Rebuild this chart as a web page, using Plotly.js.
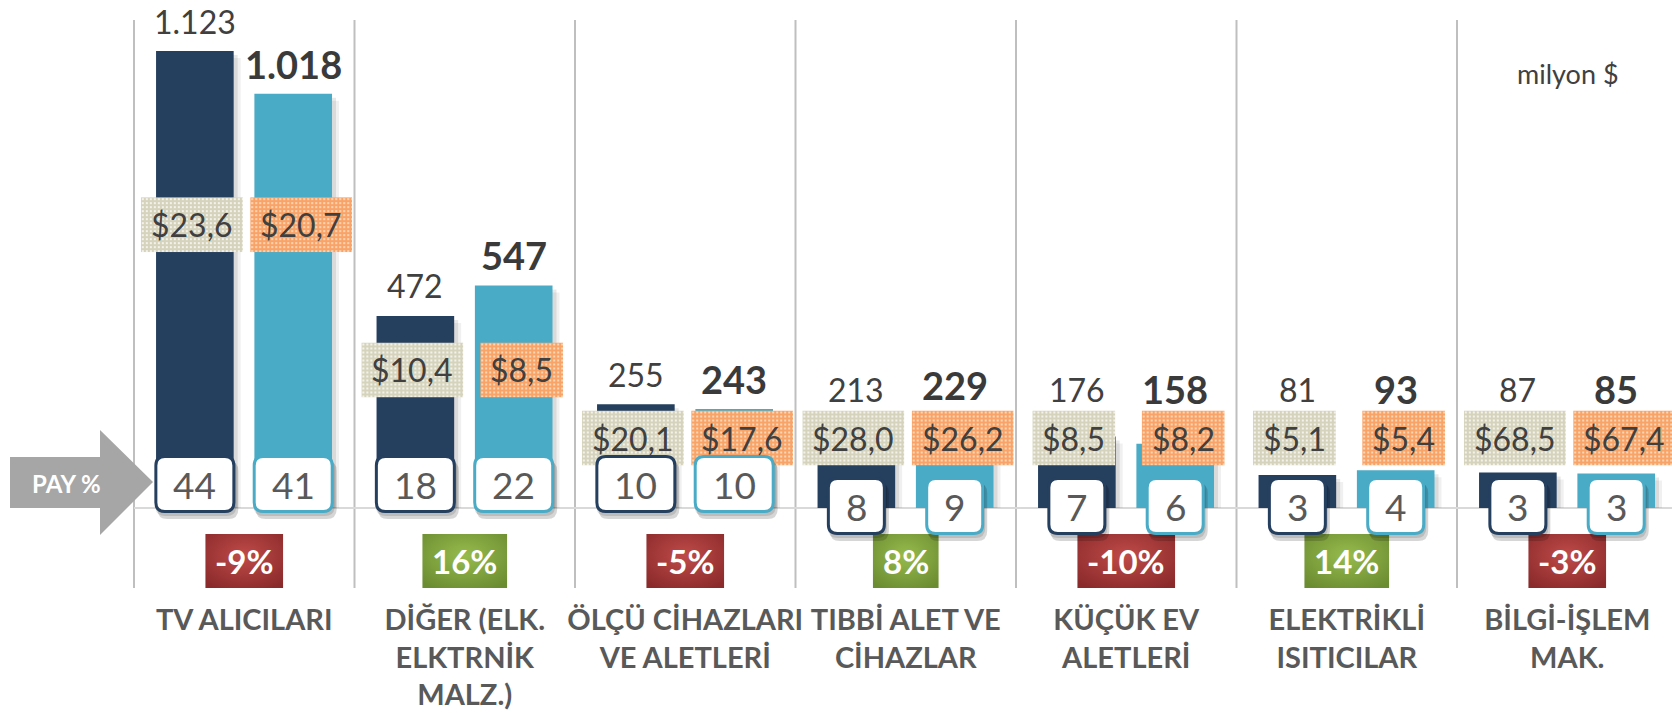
<!DOCTYPE html>
<html><head><meta charset="utf-8">
<script src="https://cdn.plot.ly/plotly-3.0.1.min.js"></script>
<style>html,body{margin:0;padding:0;background:#fff;}#chart{width:1672px;height:713px;}</style>
</head><body><div id="chart"></div>
<script>
// ---------- DATA ----------
const categories = ["TV ALICILARI", "DİĞER (ELK.<br>ELKTRNİK<br>MALZ.)", "ÖLÇÜ CİHAZLARI<br>VE ALETLERİ", "TIBBİ ALET VE<br>CİHAZLAR", "KÜÇÜK EV<br>ALETLERİ", "ELEKTRİKLİ<br>ISITICILAR", "BİLGİ-İŞLEM<br>MAK."];
const valuesPrev = [1123, 472, 255, 213, 176, 81, 87];
const valuesCurr = [1018, 547, 243, 229, 158, 93, 85];
const unitPricePrev = [23.6, 10.4, 20.1, 28.0, 8.5, 5.1, 68.5];
const unitPriceCurr = [20.7, 8.5, 17.6, 26.2, 8.2, 5.4, 67.4];
const sharePrev = [44, 18, 10, 8, 7, 3, 3];
const shareCurr = [41, 22, 10, 9, 6, 4, 3];
const changePct = [-9, 16, -5, 8, -10, 14, -3];
const unitLabel = "milyon $";
const shareLabel = "PAY %";

// ---------- GEOMETRY / STYLE ----------
const W = 1672, H = 713, PLOT_H = 600;
const CAT_W = 220.5, SEP0_PX = 134;
const BASE_PX = 508, K = 0.40695;           // px per unit
const xr = [-0.5 - SEP0_PX / CAT_W, -0.5 + (W - SEP0_PX) / CAT_W];
const yr = [-(PLOT_H - BASE_PX) / K, BASE_PX / K];
const BAR_W = 0.352, OFF_PREV = -0.400, OFF_CURR = 0.046;
const C_DARK = '#253f5f', C_LIGHT = '#4aabc6';
const FONT = 'Lato, "Open Sans", sans-serif';
const dx = p => p / CAT_W;
const dy = p => p / K;
const Xpx = px => (px - SEP0_PX) / CAT_W - 0.5;
const Ypx = py => (BASE_PX - py) / K;

const cv = document.createElement('canvas').getContext('2d');
function textW(txt, size, bold) { cv.font = (bold ? 'bold ' : '') + size + 'px Lato'; return cv.measureText(txt).width; }
const fmtInt = v => v.toLocaleString('tr-TR');
const fmtPrice = v => '$' + v.toFixed(1).replace('.', ',');
const svgUri = s => 'data:image/svg+xml;charset=utf-8,' + encodeURIComponent(s);
function patternSvg(w, h, base, dot) {
  return `<svg xmlns="http://www.w3.org/2000/svg" width="${w}" height="${h}" viewBox="0 0 ${w} ${h}"><defs><pattern id="p" width="4" height="4" patternUnits="userSpaceOnUse"><rect width="4" height="4" fill="${base}"/><rect x="1" y="1" width="2" height="2" fill="${dot}"/></pattern></defs><rect width="${w}" height="${h}" fill="url(#p)"/></svg>`;
}
function gradSvg(w, h, c1, c2) {
  return `<svg xmlns="http://www.w3.org/2000/svg" width="${w}" height="${h}" viewBox="0 0 ${w} ${h}"><defs><radialGradient id="g" cx="50%" cy="40%" r="70%"><stop offset="0" stop-color="${c1}"/><stop offset="1" stop-color="${c2}"/></radialGradient></defs><rect width="${w}" height="${h}" fill="url(#g)"/></svg>`;
}
function roundRect(a, b, r) {
  return `M ${-a + r},${-b} L ${a - r},${-b} Q ${a},${-b} ${a},${-b + r} L ${a},${b - r} Q ${a},${b} ${a - r},${b} L ${-a + r},${b} Q ${-a},${b} ${-a},${b - r} L ${-a},${-b + r} Q ${-a},${-b} ${-a + r},${-b} Z`;
}

const xs = categories.map((_, i) => i);
const traces = [];
function shadowTrace(vals, off, shift, alpha) {
  return { type: 'bar', x: xs, y: vals.map(v => v - dy(shift)), offset: off + dx(shift), width: BAR_W,
    marker: { color: `rgba(0,0,0,${alpha})`, line: { width: 0 } }, hoverinfo: 'skip', showlegend: false };
}
traces.push(shadowTrace(valuesPrev, OFF_PREV, 7, 0.06), shadowTrace(valuesPrev, OFF_PREV, 4, 0.09));
traces.push(shadowTrace(valuesCurr, OFF_CURR, 7, 0.06), shadowTrace(valuesCurr, OFF_CURR, 4, 0.09));
traces.push({ type: 'bar', name: 'önceki', x: xs, y: valuesPrev, offset: OFF_PREV, width: BAR_W, marker: { color: C_DARK, line: { width: 0 } } });
traces.push({ type: 'bar', name: 'son', x: xs, y: valuesCurr, offset: OFF_CURR, width: BAR_W, marker: { color: C_LIGHT, line: { width: 0 } } });

const shapes = [], annotations = [], images = [];
// separators
for (let i = 0; i < categories.length; i++) {
  shapes.push({ type: 'line', layer: 'below', xref: 'x', yref: 'y', x0: i - 0.5, x1: i - 0.5, y0: Ypx(588), y1: Ypx(20), line: { color: '#bfbfbf', width: 2 } });
}
// baseline
shapes.push({ type: 'line', layer: 'below', xref: 'x', yref: 'y', x0: -0.5, x1: xr[1], y0: 0, y1: 0, line: { color: '#d9d9d9', width: 2 } });

// arrow
const arrowPts = [[10, 457], [100, 457], [100, 430], [153, 482], [100, 535], [100, 508], [10, 508]];
shapes.push({ type: 'path', layer: 'below', xref: 'x', yref: 'y', path: 'M ' + arrowPts.map(p => Xpx(p[0]) + ',' + Ypx(p[1])).join(' L ') + ' Z', fillcolor: '#a6a6a6', line: { width: 0 } });
annotations.push({ xref: 'x', yref: 'y', x: Xpx(66), y: Ypx(483), xanchor: 'center', yanchor: 'middle', text: shareLabel, showarrow: false, font: { family: FONT, size: 24, color: '#ffffff', weight: 'bold' } });
annotations.push({ xref: 'paper', yref: 'paper', x: 1568 / W, y: 1 - 73 / PLOT_H, xanchor: 'center', yanchor: 'middle', text: unitLabel, showarrow: false, font: { family: FONT, size: 27, color: '#404040' } });

const series = [
  { vals: valuesPrev, off: OFF_PREV, price: unitPricePrev, share: sharePrev, col: C_DARK, bold: false, size: 32, pShift: -3, base: '#d6d3bd', dot: '#f3f2ea' },
  { vals: valuesCurr, off: OFF_CURR, price: unitPriceCurr, share: shareCurr, col: C_LIGHT, bold: true, size: 38, pShift: 8, base: '#f8a468', dot: '#fdd6b6' }
];
for (let i = 0; i < categories.length; i++) {
  const hmaxPx = Math.max(valuesPrev[i], valuesCurr[i]) * K;
  const priceCy = BASE_PX - Math.max(0.62 * hmaxPx, 70);
  series.forEach(s => {
    const v = s.vals[i];
    const cx = i + s.off + BAR_W / 2;
    const topPx = BASE_PX - v * K;
    // value label
    annotations.push({ xref: 'x', yref: 'y', x: cx, y: Ypx(Math.min(topPx - 30, 389)), xanchor: 'center', yanchor: 'middle', text: fmtInt(v), showarrow: false,
      font: { family: FONT, size: s.size, color: s.bold ? '#3a3a3a' : '#404040', weight: s.bold ? 'bold' : 'normal' } });
    // price box
    const pt = fmtPrice(s.price[i]);
    const pw = Math.round(textW(pt, 32, false) + 20), ph = 55;
    const pcx = cx + dx(s.pShift);
    images.push({ source: svgUri(patternSvg(pw, ph, s.base, s.dot)), xref: 'x', yref: 'y', x: pcx - dx(pw / 2), y: Ypx(priceCy - ph / 2),
      sizex: dx(pw), sizey: dy(ph), xanchor: 'left', yanchor: 'top', sizing: 'stretch', layer: 'above' });
    annotations.push({ xref: 'x', yref: 'y', x: pcx, y: Ypx(priceCy), xanchor: 'center', yanchor: 'middle', text: pt, showarrow: false, font: { family: FONT, size: 32, color: '#404040' } });
    // share box
    const st = String(s.share[i]);
    const sw = Math.round(textW(st, 37, false) + 38), sh = 58;
    const scy = BASE_PX - (v * K >= 95 ? 24 : 2);
    shapes.push({ type: 'path', layer: 'above', xref: 'x', yref: 'y', xsizemode: 'pixel', ysizemode: 'pixel', xanchor: cx + dx(3), yanchor: Ypx(scy + 6),
      path: roundRect(sw / 2, sh / 2, 10), fillcolor: 'rgba(0,0,0,0.16)', line: { width: 0 } });
    shapes.push({ type: 'path', layer: 'above', xref: 'x', yref: 'y', xsizemode: 'pixel', ysizemode: 'pixel', xanchor: cx + dx(1), yanchor: Ypx(scy + 3),
      path: roundRect(sw / 2, sh / 2, 10), fillcolor: 'rgba(0,0,0,0.12)', line: { width: 0 } });
    shapes.push({ type: 'path', layer: 'above', xref: 'x', yref: 'y', xsizemode: 'pixel', ysizemode: 'pixel', xanchor: cx, yanchor: Ypx(scy),
      path: roundRect(sw / 2 - 1.5, sh / 2 - 1.5, 9), fillcolor: '#ffffff', line: { color: s.col, width: 3 } });
    annotations.push({ xref: 'x', yref: 'y', x: cx, y: Ypx(scy), xanchor: 'center', yanchor: 'middle', text: st, showarrow: false, font: { family: FONT, size: 37, color: '#595959' } });
  });
  // change box
  const ct = changePct[i] + '%';
  const cw = Math.round(textW(ct, 33, true) + 20), ch = 54;
  const neg = changePct[i] < 0;
  images.push({ source: svgUri(gradSvg(cw, ch, neg ? '#bf4b49' : '#97bb4d', neg ? '#8b2a2b' : '#6c8c31')), xref: 'x', yref: 'y',
    x: i - dx(cw / 2), y: Ypx(561 - ch / 2), sizex: dx(cw), sizey: dy(ch), xanchor: 'left', yanchor: 'top', sizing: 'stretch', layer: 'above' });
  annotations.push({ xref: 'x', yref: 'y', x: i, y: Ypx(561), xanchor: 'center', yanchor: 'middle', text: ct, showarrow: false, font: { family: FONT, size: 33, color: '#ffffff', weight: 'bold' } });
}

const layout = {
  width: W, height: H, margin: { l: 0, r: 0, t: 0, b: H - PLOT_H, pad: 0 },
  paper_bgcolor: '#ffffff', plot_bgcolor: '#ffffff', showlegend: false, barmode: 'overlay',
  xaxis: { range: xr, tickvals: xs, ticktext: categories, tickangle: 0, ticks: '', showgrid: false, zeroline: false, showline: false,
    tickfont: { family: FONT, size: 29, color: '#595959', weight: 'bold' }, fixedrange: true },
  yaxis: { range: yr, visible: false, showgrid: false, zeroline: false, fixedrange: true },
  shapes, annotations, images
};
Plotly.newPlot('chart', traces, layout, { staticPlot: true, displayModeBar: false });
</script></body></html>
